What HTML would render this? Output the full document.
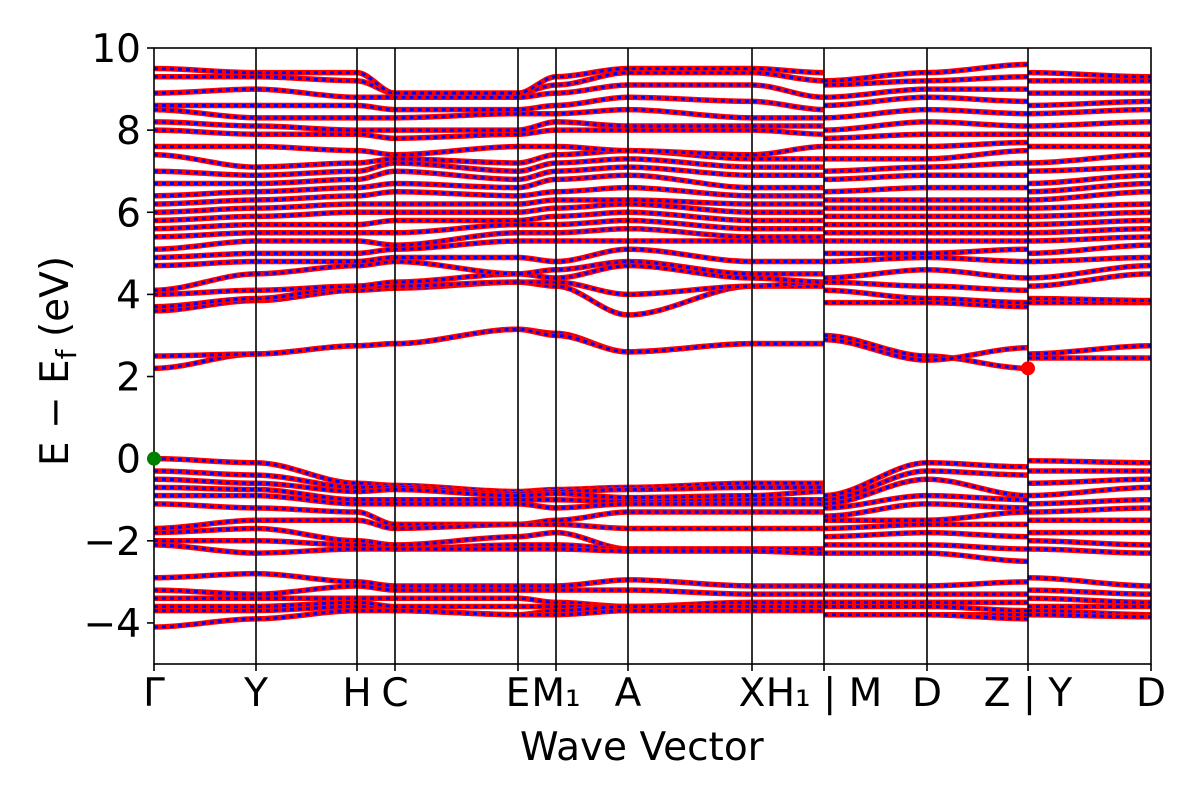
<!DOCTYPE html>
<html><head><meta charset="utf-8"><style>
html,body{margin:0;padding:0;background:#fff;}
svg{display:block;font-family:"DejaVu Sans","Liberation Sans",sans-serif;}
</style></head><body>
<svg id="chart" width="1200" height="800">
<g id="bands"></g>
<g id="vlines"></g>
<rect x="154" y="48" width="997" height="616" fill="none" stroke="#000" stroke-width="1.6"/>
<g id="yticks"></g>
<g id="xticks"></g>
<text x="520" y="760" font-size="39">Wave Vector</text>
<text transform="translate(68,361) rotate(-90)" text-anchor="middle" font-size="39">E − E<tspan font-size="28" dy="8">f</tspan><tspan dy="-8"> (eV)</tspan></text>
<g id="markers"></g>
</svg>
<script>
const kPx=[154,256,357,395,518,556,628,752,824,824,927,1028,1028,1151];
const tickLabels=["Γ","Y","H","C","E","M₁","A","X","H₁ | M","D","Z | Y","D"];
const tickPx=[154,256,357,395,518,556,628,752,824,927,1028,1151];
const yTicks=[-4,-2,0,2,4,6,8,10];
const yMin=-5,yMax=10;
const valence=[
[[0,-0.1,-0.6,-0.65,-0.8,-0.75,-0.7,-0.6,-0.6],[-0.9,-0.1,-0.2],[-0.05,-0.1]],
[[-0.3,-0.4,-0.7,-0.7,-0.85,-0.8,-0.75,-0.7,-0.7],[-1.0,-0.3,-0.4],[-0.3,-0.3]],
[[-0.5,-0.6,-0.8,-0.75,-0.9,-0.85,-0.95,-0.9,-0.8],[-1.1,-0.5,-0.9],[-0.6,-0.5]],
[[-0.7,-0.75,-1.0,-1.0,-1.0,-1.0,-1.05,-1.0,-1.0],[-1.2,-0.9,-1.0],[-0.9,-0.7]],
[[-0.9,-0.9,-1.1,-1.1,-1.1,-1.2,-1.1,-1.1,-1.1],[-1.4,-1.1,-1.2],[-1.1,-1.0]],
[[-1.1,-1.2,-1.3,-1.6,-1.6,-1.5,-1.3,-1.3,-1.3],[-1.5,-1.5,-1.3],[-1.3,-1.2]],
[[-1.7,-1.5,-1.5,-1.7,-1.6,-1.6,-1.7,-1.7,-1.7],[-1.7,-1.6,-1.6],[-1.5,-1.5]],
[[-1.8,-1.7,-2.0,-2.1,-1.9,-1.8,-2.2,-2.2,-2.2],[-1.9,-1.8,-1.9],[-1.8,-1.8]],
[[-2.0,-2.0,-2.1,-2.2,-2.1,-2.1,-2.2,-2.2,-2.2],[-2.1,-2.1,-2.2],[-2.0,-2.1]],
[[-2.1,-2.3,-2.2,-2.2,-2.2,-2.2,-2.25,-2.25,-2.3],[-2.3,-2.3,-2.5],[-2.2,-2.3]],
[[-2.9,-2.8,-3.0,-3.1,-3.1,-3.1,-2.95,-3.1,-3.1],[-3.1,-3.1,-3.0],[-2.9,-3.1]],
[[-3.2,-3.3,-3.1,-3.2,-3.2,-3.2,-3.2,-3.3,-3.3],[-3.3,-3.3,-3.3],[-3.2,-3.3]],
[[-3.4,-3.4,-3.4,-3.4,-3.4,-3.5,-3.6,-3.5,-3.5],[-3.5,-3.5,-3.5],[-3.4,-3.5]],
[[-3.6,-3.6,-3.5,-3.6,-3.6,-3.6,-3.6,-3.6,-3.6],[-3.6,-3.6,-3.7],[-3.6,-3.6]],
[[-3.7,-3.7,-3.6,-3.7,-3.8,-3.7,-3.6,-3.6,-3.6],[-3.8,-3.8,-3.8],[-3.7,-3.8]],
[[-4.1,-3.9,-3.7,-3.7,-3.8,-3.8,-3.7,-3.7,-3.7],[-3.8,-3.8,-3.9],[-3.8,-3.85]]
];
const conduction=[
[[2.2,2.55,2.75,2.8,3.15,3.05,2.6,2.8,2.8],[3.0,2.5,2.2],[2.55,2.75]],
[[2.5,2.55,2.75,2.8,3.15,3.0,2.6,2.8,2.8],[2.9,2.4,2.7],[2.45,2.45]],
[[3.6,3.85,4.1,4.15,4.3,4.2,3.5,4.2,4.2],[3.8,3.8,3.7],[3.8,3.8]],
[[3.7,3.9,4.2,4.2,4.3,4.3,4.0,4.2,4.3],[4.1,3.9,3.8],[3.9,3.85]],
[[4.0,4.1,4.2,4.3,4.5,4.4,4.7,4.4,4.3],[4.3,4.2,4.1],[4.2,4.5]],
[[4.1,4.5,4.7,4.8,4.5,4.6,4.8,4.5,4.5],[4.4,4.6,4.4],[4.4,4.7]],
[[4.7,4.8,4.8,4.9,4.9,4.8,5.1,4.8,4.8],[4.8,4.9,4.8],[4.8,4.9]],
[[4.9,5.0,5.0,5.1,5.3,5.3,5.3,5.3,5.3],[5.0,5.0,5.1],[5.0,5.2]],
[[5.1,5.3,5.3,5.2,5.5,5.5,5.6,5.4,5.4],[5.3,5.3,5.3],[5.3,5.4]],
[[5.4,5.5,5.5,5.5,5.7,5.7,5.8,5.6,5.6],[5.5,5.5,5.5],[5.5,5.6]],
[[5.6,5.7,5.7,5.8,5.8,5.9,6.0,5.8,5.8],[5.7,5.7,5.7],[5.7,5.8]],
[[5.8,5.9,6.0,6.0,6.0,6.1,6.2,6.0,6.0],[5.9,5.9,5.9],[5.9,6.0]],
[[6.0,6.1,6.2,6.2,6.2,6.3,6.3,6.2,6.2],[6.1,6.1,6.1],[6.1,6.2]],
[[6.2,6.3,6.4,6.5,6.4,6.5,6.6,6.4,6.4],[6.3,6.3,6.3],[6.3,6.5]],
[[6.4,6.5,6.6,6.7,6.6,6.8,6.9,6.6,6.6],[6.5,6.6,6.6],[6.5,6.7]],
[[6.7,6.7,6.8,7.0,6.8,7.0,7.1,6.9,6.9],[6.8,6.9,6.9],[6.7,6.9]],
[[7.0,6.9,7.0,7.2,7.0,7.2,7.3,7.1,7.1],[7.0,7.1,7.2],[7.0,7.1]],
[[7.4,7.1,7.2,7.3,7.2,7.4,7.5,7.3,7.3],[7.3,7.3,7.5],[7.2,7.4]],
[[7.6,7.6,7.5,7.4,7.6,7.6,7.5,7.4,7.6],[7.6,7.6,7.7],[7.6,7.6]],
[[8.0,7.9,7.9,7.8,7.9,8.0,8.0,8.0,7.9],[7.8,7.9,7.9],[7.9,7.9]],
[[8.2,8.1,8.0,8.0,8.0,8.2,8.1,8.1,8.1],[8.0,8.2,8.1],[8.1,8.2]],
[[8.5,8.3,8.3,8.3,8.4,8.4,8.5,8.3,8.3],[8.3,8.5,8.4],[8.4,8.5]],
[[8.6,8.6,8.6,8.5,8.5,8.6,8.8,8.7,8.5],[8.6,8.8,8.7],[8.6,8.7]],
[[8.9,9.0,8.8,8.8,8.8,8.9,9.1,9.1,8.8],[8.8,9.0,9.0],[8.9,8.9]],
[[9.3,9.3,9.2,8.9,8.9,9.1,9.4,9.4,9.2],[9.1,9.2,9.3],[9.2,9.2]],
[[9.5,9.4,9.4,8.9,8.9,9.3,9.5,9.5,9.4],[9.2,9.4,9.6],[9.4,9.3]]
];
const vbmPoint=[0,0];
const cbmPoint=[11,2.2];
const NS="http://www.w3.org/2000/svg";
function xs(k){return kPx[k];}
function ys(e){return 48+(yMax-e)/(yMax-yMin)*616;}
const pathStart=[0,9,12];
function pathD(vals,start){
  const pts=vals.map((v,i)=>[xs(start+i),ys(v)]);
  let d="M"+pts[0][0]+","+pts[0][1];
  for(let i=0;i<pts.length-1;i++){
    const p0=pts[i],p1=pts[i+1];
    const dx=(p1[0]-p0[0])/3;
    d+=" C"+(p0[0]+dx)+","+p0[1]+" "+(p1[0]-dx)+","+p1[1]+" "+p1[0]+","+p1[1];
  }
  return d;
}
const gB=document.getElementById('bands');
[...valence,...conduction].forEach((band,bi)=>{
  band.forEach((seg,si)=>{
    const d=pathD(seg,pathStart[si]);
    const r=document.createElementNS(NS,'path');
    r.setAttribute('d',d);r.setAttribute('fill','none');r.setAttribute('stroke','#ff0000');r.setAttribute('stroke-width','5.5');
    
    
    gB.appendChild(r);
    const b=document.createElementNS(NS,'path');
    b.setAttribute('d',d);b.setAttribute('fill','none');b.setAttribute('stroke','#0000ff');b.setAttribute('stroke-width','3');b.setAttribute('stroke-dasharray','4,4');
    
    
    gB.appendChild(b);
  });
});
const gV=document.getElementById('vlines');
tickPx.forEach((x,i)=>{
  if(i==0||i==tickPx.length-1)return;
  const l=document.createElementNS(NS,'line');
  l.setAttribute('x1',x);l.setAttribute('x2',x);l.setAttribute('y1',48);l.setAttribute('y2',664);
  l.setAttribute('stroke','#000');l.setAttribute('stroke-width','1.6');
  
  
  gV.appendChild(l);
});
const gY=document.getElementById('yticks');
yTicks.forEach(v=>{
  const y=ys(v);
  const l=document.createElementNS(NS,'line');
  l.setAttribute('x1',147);l.setAttribute('x2',154);l.setAttribute('y1',y);l.setAttribute('y2',y);l.setAttribute('stroke','#000');l.setAttribute('stroke-width','1.6');
  
  
  gY.appendChild(l);
  const t=document.createElementNS(NS,'text');
  t.setAttribute('x',141);t.setAttribute('y',y+14);t.setAttribute('text-anchor','end');t.setAttribute('font-size','39');
  t.textContent=(v<0?"−":"")+Math.abs(v);
  
  
  gY.appendChild(t);
});
const gX=document.getElementById('xticks');
tickLabels.forEach((lab,i)=>{
  const x=tickPx[i];
  const l=document.createElementNS(NS,'line');
  l.setAttribute('x1',x);l.setAttribute('x2',x);l.setAttribute('y1',664);l.setAttribute('y2',671);l.setAttribute('stroke','#000');l.setAttribute('stroke-width','1.6');
  
  
  gX.appendChild(l);
  const t=document.createElementNS(NS,'text');
  t.setAttribute('x',x);t.setAttribute('y',706);t.setAttribute('text-anchor','middle');t.setAttribute('font-size','39');
  t.textContent=lab;
  
  
  gX.appendChild(t);
});
const gM=document.getElementById('markers');
[[vbmPoint,'#008000','vbm-marker'],[cbmPoint,'#ff0000','cbm-marker']].forEach(m=>{
  const c=document.createElementNS(NS,'circle');
  c.setAttribute('cx',xs(m[0][0]));c.setAttribute('cy',ys(m[0][1]));c.setAttribute('r',7);c.setAttribute('fill',m[1]);
  
  
  gM.appendChild(c);
});
</script>
</body></html>
